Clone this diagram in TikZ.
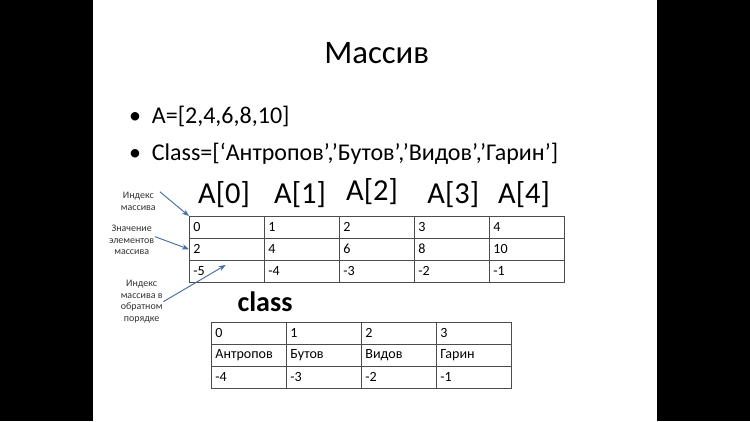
\documentclass[tikz,border=0pt]{standalone}
\usepackage{fontspec}
\setmainfont{Carlito}
\usetikzlibrary{arrows.meta}
\definecolor{steel}{RGB}{70,110,160}
\tikzset{
  cell/.style={draw=black!70, minimum width=2.25cm, minimum height=0.66cm, inner sep=3pt,
    text width=2.0cm, align=left, font=\fontsize{12}{13}\selectfont},
  idx/.style={font=\fontsize{26}{28}\selectfont},
  note/.style={font=\fontsize{8.5}{10}\selectfont, align=center, text=black!80},
  pointer/.style={-{Stealth[length=6pt]}, thick, draw=steel}
}
\begin{document}
\begin{tikzpicture}
  \fill[black] (0,0) rectangle (22.5,-12.63);
  \fill[white] (2.79,0) rectangle (19.71,-12.63);
  \useasboundingbox (0,0) rectangle (22.5,-12.63);

  \node (title) at (11.3,-1.58) {\fontsize{28}{30}\selectfont Массив};
  \node[anchor=west] (b1) at (3.75,-3.5) {\fontsize{20.5}{22}\selectfont \textbullet\hspace{0.45em}A=[2,4,6,8,10]};
  \node[anchor=west] (b2) at (3.75,-4.6) {\fontsize{20.5}{22}\selectfont \textbullet\hspace{0.45em}Class=[‘Антропов’,’Бутов’,’Видов’,’Гарин’]};

  % index labels
  \node[idx] (a0) at (6.72,-5.85) {A[0]};
  \node[idx] (a1) at (9.0,-5.85) {A[1]};
  \node[idx] (a2) at (11.16,-5.75) {A[2]};
  \node[idx] (a3) at (13.6,-5.85) {A[3]};
  \node[idx] (a4) at (15.72,-5.85) {A[4]};

  % table A
  \foreach \i/\v/\r in {0/2/-5, 1/4/-4, 2/6/-3, 3/8/-2, 4/10/-1}{
    \node[cell, anchor=north west] (k\i) at (5.67+2.25*\i,-6.48) {\i};
    \node[cell, anchor=north west] (v\i) at (5.67+2.25*\i,-7.14) {\v};
    \node[cell, anchor=north west] (r\i) at (5.67+2.25*\i,-7.80) {\r};
  }

  \node (cls) at (7.95,-9.05) {\fontsize{24}{26}\selectfont\bfseries class};

  % table Class
  \foreach \i/\n/\r in {0/Антропов/-4, 1/Бутов/-3, 2/Видов/-2, 3/Гарин/-1}{
    \node[cell, anchor=north west] (ck\i) at (6.33+2.25*\i,-9.66) {\i};
    \node[cell, anchor=north west] (cn\i) at (6.33+2.25*\i,-10.32) {\n};
    \node[cell, anchor=north west] (cr\i) at (6.33+2.25*\i,-10.98) {\r};
  }

  % notes
  \node[note] (n1) at (4.15,-6.05) {Индекс\\массива};
  \node[note] (n2) at (3.95,-7.2) {Значение\\элементов\\массива};
  \node[note] (n3) at (4.25,-9.05) {Индекс\\массива в\\обратном\\порядке};
  \draw[pointer] (n1.north east) ++(0.0,-0.1) -- (k0.north west);
  \draw[pointer] (n2.east) ++(-0.1,0.1) -- (v0.west);
  \draw[pointer] (n3.east) ++(-0.1,0) -- ([xshift=1.1cm,yshift=-0.15cm]r0.north west);
\end{tikzpicture}
\end{document}
